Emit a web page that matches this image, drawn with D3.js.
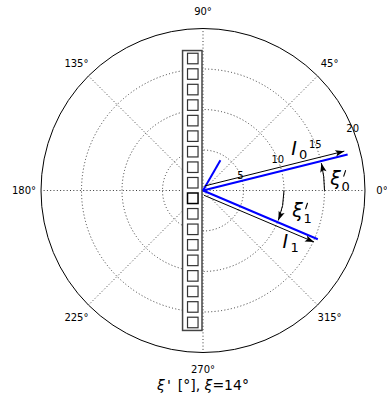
<!DOCTYPE html>
<html>
<head>
<meta charset="utf-8">
<script src="https://cdn.jsdelivr.net/npm/d3@7"></script>
<style>
body { margin:0; background:#fff; }
text { font-family: "DejaVu Sans", sans-serif; }
</style>
</head>
<body>
<div id="chart"></div>
<script>
// polar grid
var rTicks = [5, 10, 15, 20];
var thetaTicks = [0, 45, 90, 135, 180, 225, 270, 315];
var thetaLabels = ["0°", "45°", "90°", "135°", "180°", "225°", "270°", "315°"];

// beams (blue) : angle in degrees, length in r units
var beamAngles = [14, -23, 60];
var beamLengths = [18.4, 15.4, 4.3];

// intensity arrows (black)
var arrowAngles = [14, -23];
var arrowLengths = [18.1, 15.1];
var arrowNames = ["0", "1"];

// angle arcs xi'
var arcRadii = [15, 10];
var arcEnds = [13, -21.5];

// detector
var nPixels = 18;
var litPixel = 9;

var w = 387, h = 401;
var cx = 203, cy = 190.5, R = 162;

var r = d3.scaleLinear().domain([0, 20]).range([0, R]);
var rad = function(a) { return a * Math.PI / 180; };
var px = function(a, v) { return cx + r(v) * Math.cos(rad(a)); };
var py = function(a, v) { return cy - r(v) * Math.sin(rad(a)); };

var svg = d3.select("#chart").append("svg")
  .attr("width", w).attr("height", h);

var defs = svg.append("defs");
defs.append("marker")
  .attr("id", "head")
  .attr("markerUnits", "userSpaceOnUse")
  .attr("markerWidth", 12).attr("markerHeight", 10)
  .attr("refX", 0).attr("refY", 0)
  .attr("viewBox", "-10 -5 12 10")
  .attr("orient", "auto")
  .append("path")
  .attr("d", "M0,0 L-9,-3.2 L-7,0 L-9,3.2 Z")
  .attr("fill", "#000");

// grid circles
svg.append("g").selectAll("circle")
  .data(rTicks.slice(0, -1))
  .enter().append("circle")
  .attr("cx", cx).attr("cy", cy)
  .attr("r", function(d) { return r(d); })
  .attr("fill", "none")
  .attr("stroke", "#222")
  .attr("stroke-width", 0.9)
  .attr("stroke-dasharray", "1,2.3");

// spokes
svg.append("g").selectAll("line")
  .data(thetaTicks)
  .enter().append("line")
  .attr("x1", cx).attr("y1", cy)
  .attr("x2", function(d) { return px(d, 20); })
  .attr("y2", function(d) { return py(d, 20); })
  .attr("stroke", "#222")
  .attr("stroke-width", 0.9)
  .attr("stroke-dasharray", "1,2.3");

// outer circle
svg.append("circle")
  .attr("cx", cx).attr("cy", cy).attr("r", r(20))
  .attr("fill", "none").attr("stroke", "#000").attr("stroke-width", 1);

// angular labels
svg.append("g").selectAll("text")
  .data(thetaTicks)
  .enter().append("text")
  .attr("x", function(d) { return cx + (R + 17) * Math.cos(rad(d)); })
  .attr("y", function(d) { return cy - (R + 17) * Math.sin(rad(d)); })
  .attr("dy", "0.35em")
  .attr("text-anchor", "middle")
  .attr("font-size", 10)
  .text(function(d, i) { return thetaLabels[i]; });

// radial labels
svg.append("g").selectAll("text")
  .data(rTicks)
  .enter().append("text")
  .attr("x", function(d) { return px(22.5, d); })
  .attr("y", function(d) { return py(22.5, d); })
  .attr("dy", "0.35em")
  .attr("text-anchor", "middle")
  .attr("font-size", 10)
  .text(function(d) { return d; });

// detector
var pitch = 1.917, cell = 1.3;
var detW = 2.4, detH = pitch * nPixels + 0.05;
var detX = cx - 1 - r(detW);
var det = svg.append("g");
det.append("rect")
  .attr("x", detX).attr("y", cy - r(detH) / 2)
  .attr("width", r(detW)).attr("height", r(detH))
  .attr("fill", "#fff").attr("stroke", "#444").attr("stroke-width", 1.5);
det.selectAll(".pix")
  .data(d3.range(nPixels))
  .enter().append("rect")
  .attr("class", "pix")
  .attr("x", detX + r(detW) / 2 - r(cell) / 2 + 0.5)
  .attr("y", function(i) { return cy - r(pitch * nPixels) / 2 + r(pitch) * i + (r(pitch) - r(cell)) / 2; })
  .attr("width", r(cell)).attr("height", r(cell))
  .attr("fill", "#fff")
  .attr("stroke", function(i) { return i === litPixel ? "#000" : "#333"; })
  .attr("stroke-width", function(i) { return i === litPixel ? 1.5 : 1.2; });

// blue beams
svg.append("g").selectAll("line")
  .data(beamAngles)
  .enter().append("line")
  .attr("x1", cx).attr("y1", cy)
  .attr("x2", function(d, i) { return px(d, beamLengths[i]); })
  .attr("y2", function(d, i) { return py(d, beamLengths[i]); })
  .attr("stroke", "#0000ff")
  .attr("stroke-width", 2);

// black intensity arrows, shifted off the beams
var off = 4;
svg.append("g").selectAll("line")
  .data(arrowAngles)
  .enter().append("line")
  .attr("x1", function(d) { var s = d > 0 ? 1 : -1; return px(d, 0.35) - s * off * Math.sin(rad(d)); })
  .attr("y1", function(d) { var s = d > 0 ? 1 : -1; return py(d, 0.35) - s * off * Math.cos(rad(d)); })
  .attr("x2", function(d, i) { var s = d > 0 ? 1 : -1; return px(d, arrowLengths[i]) - s * off * Math.sin(rad(d)); })
  .attr("y2", function(d, i) { var s = d > 0 ? 1 : -1; return py(d, arrowLengths[i]) - s * off * Math.cos(rad(d)); })
  .attr("stroke", "#000")
  .attr("stroke-width", 1)
  .attr("marker-end", "url(#head)");

// angle arcs
svg.append("g").selectAll("path")
  .data(arcRadii)
  .enter().append("path")
  .attr("d", function(d, i) {
    var p = d3.path();
    p.arc(cx, cy, r(d), 0, -rad(arcEnds[i]), arcEnds[i] > 0);
    return p.toString();
  })
  .attr("fill", "none")
  .attr("stroke", "#000")
  .attr("stroke-width", 1)
  .attr("marker-end", "url(#head)");

// math labels: symbol, optional prime, subscript as separate texts
var mathFont = "'Liberation Serif', serif";
var addSym = function(a, v, sym, sub, prime) {
  var x = px(a, v), y = py(a, v);
  var g = svg.append("g").attr("font-family", mathFont);
  g.append("text")
    .attr("x", x - 3).attr("y", y + 6)
    .attr("text-anchor", "middle")
    .attr("font-style", "italic")
    .attr("font-size", 19)
    .text(sym);
  if (prime) {
    // prime drawn as a short slanted stroke
    g.append("line")
      .attr("x1", x + 7).attr("y1", y - 8)
      .attr("x2", x + 5.2).attr("y2", y - 2.5)
      .attr("stroke", "#000").attr("stroke-width", 1.1)
      .attr("stroke-linecap", "round");
  }
  g.append("text")
    .attr("x", x + (prime ? 3 : 2)).attr("y", y + (prime ? 12 : 10))
    .attr("font-size", 13)
    .text(sub);
};
addSym(24, 12.7, "I", arrowNames[0], false);
addSym(-31, 12.3, "I", arrowNames[1], false);
addSym(5, 16.8, "ξ", arrowNames[0], true);
addSym(-12, 12.3, "ξ", arrowNames[1], true);

// x label
var xl = svg.append("text")
  .attr("x", cx).attr("y", 390)
  .attr("text-anchor", "middle")
  .attr("font-size", 14);
xl.append("tspan").attr("font-style", "italic").text("ξ");
xl.append("tspan").attr("font-family", "'DejaVu Sans Mono', monospace").attr("font-size", 14).text("'");
xl.append("tspan").text(" [°], ");
xl.append("tspan").attr("font-style", "italic").text("ξ");
xl.append("tspan").text("=14°");
</script>
</body>
</html>
